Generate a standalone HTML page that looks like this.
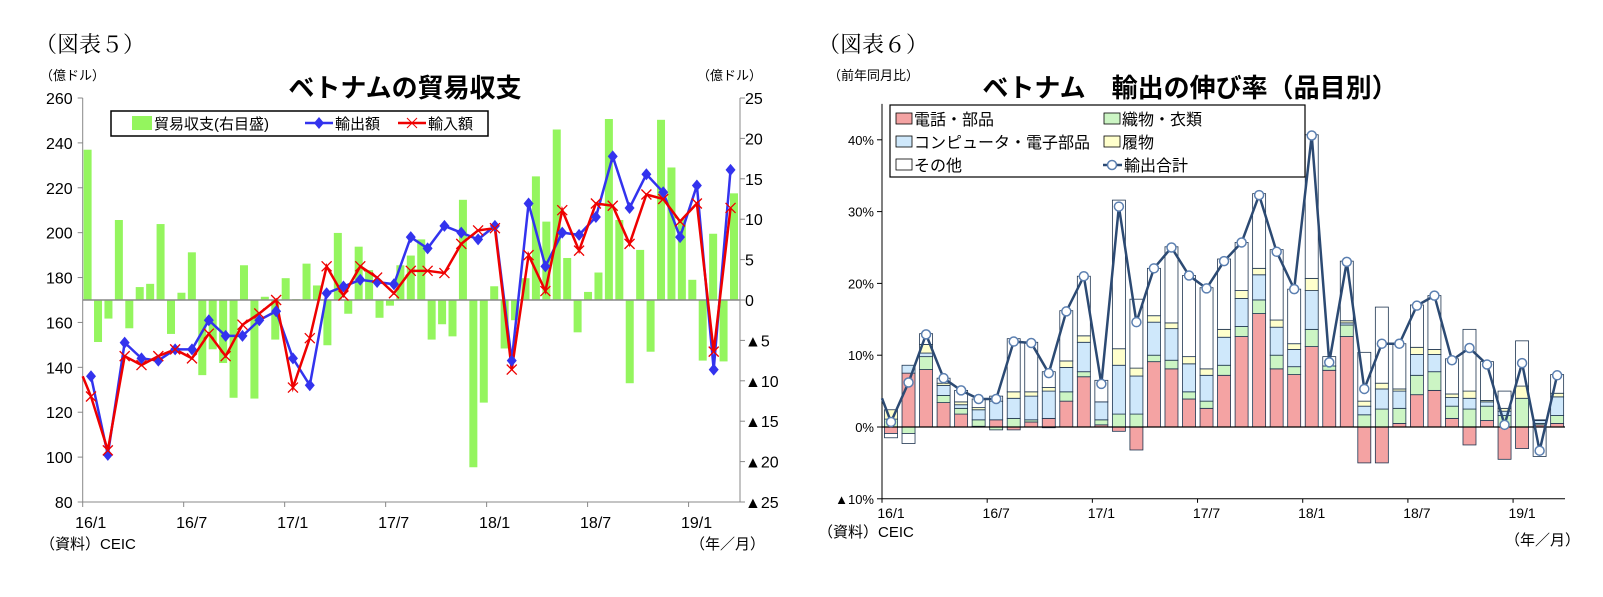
<!DOCTYPE html><html><head><meta charset="utf-8"><style>
body{margin:0;background:#fff;width:1603px;height:597px;overflow:hidden}
svg{display:block;font-family:"Liberation Sans","Noto Sans CJK JP",sans-serif}
</style></head><body>
<svg id="s" width="1603" height="597" xmlns="http://www.w3.org/2000/svg"></svg>
<script>
const s=document.getElementById('s');let h='';
function T(x,y,t,sz,a,extra){h+=`<text x="${x}" y="${y}" font-size="${sz}" text-anchor="${a||'start'}" ${extra||''}>${t}</text>`;}
// ===== Left chart =====
T(35,52,'（図表５）',22,'start','font-family="Liberation Serif,Noto Serif CJK SC,serif"');
T(40,80,'（億ドル）',13);T(762,80,'（億ドル）',13,'end');
T(405,97,'ベトナムの貿易収支',26,'middle','font-weight="bold"');
const L=82.7,R=740,yT=98,yB=502;
const yl=v=>yB-(v-80)*(yB-yT)/180, yr=v=>300-v*8.08;
const bal=[18.6,-5.2,-2.3,9.9,-3.5,1.6,2.0,9.4,-4.2,0.9,5.9,-9.3,-6.1,-7.8,-12.1,4.3,-12.2,0.4,-4.9,2.7,0.1,4.5,1.8,-5.6,8.3,-1.7,6.6,3.7,-2.2,-0.7,4.3,5.5,7.5,-4.9,-3.0,-4.5,12.4,-20.7,-12.7,1.7,-6.0,-2.5,2.7,15.3,9.7,21.1,5.2,-4.0,1.0,3.4,22.4,9.9,-10.3,6.2,-6.4,22.3,16.4,10,2.5,-7.5,8.2,-7.6,13.2];
bal.forEach((v,k)=>{const x=87.6+k*(646.4/62);const y=Math.min(yr(v),300);h+=`<rect x="${x-4}" y="${y}" width="8" height="${Math.abs(yr(v)-300)}" fill="#94f55e"/>`;});
h+=`<line x1="${L}" y1="300" x2="${R}" y2="300" stroke="#888" stroke-width="1.5"/>`;
h+=`<line x1="${L}" y1="${yT}" x2="${L}" y2="${yB}" stroke="#888"/><line x1="${R}" y1="${yT}" x2="${R}" y2="${yB}" stroke="#888"/><line x1="${L}" y1="${yB}" x2="${R}" y2="${yB}" stroke="#888"/>`;
for(let v=80;v<=260;v+=20){const y=yl(v);h+=`<line x1="${L-5}" y1="${y}" x2="${L}" y2="${y}" stroke="#888"/>`;T(L-10,y+6,v,16,'end');}
const rl=['25','20','15','10','5','0','▲5','▲10','▲15','▲20','▲25'];
rl.forEach((t,i)=>{const y=yr(25-5*i);h+=`<line x1="${R}" y1="${y}" x2="${R+5}" y2="${y}" stroke="#888"/>`;T(R+5,y+6,t,16);});
const lab=['16/1','16/7','17/1','17/7','18/1','18/7','19/1'];
lab.forEach((t,i)=>{const x=L+i*6*16.83;h+=`<line x1="${x}" y1="${yB}" x2="${x}" y2="${yB+5}" stroke="#888"/>`;T(x+8,528,t,16,'middle');});
T(40,549,'（資料）CEIC',15);T(765,549,'（年／月）',15,'end');
const ex=[136,101,151,144,143,148,148,161,154,154,161,165,144,132,173,176,179,178,177,198,193,203,200,197,203,143,213,185,200,199,207,234,211,226,218,198,221,139,228];
const im=[127,103,145,141,145,148,144,155,145,159,164,170,131,153,185,172,185,180,173,183,183,182,195,201,202,139,190,174,210,192,213,212,195,217,215,205,213,147,211];
const px=i=>91+i*16.83;
h+=`<polyline fill="none" stroke="#3333ee" stroke-width="2.5" points="${ex.map((v,i)=>px(i)+','+yl(v)).join(' ')}"/>`;
h+=`<polyline fill="none" stroke="#ee0000" stroke-width="2.5" points="${L},${yl(136)} ${im.map((v,i)=>px(i)+','+yl(v)).join(' ')}"/>`;
ex.forEach((v,i)=>{const x=px(i),y=yl(v);h+=`<path d="M${x} ${y-6}L${x+5} ${y}L${x} ${y+6}L${x-5} ${y}Z" fill="#3333ee"/>`;});
im.forEach((v,i)=>{const x=px(i),y=yl(v);h+=`<path d="M${x-5} ${y-5}L${x+5} ${y+5}M${x+5} ${y-5}L${x-5} ${y+5}" stroke="#ee0000" stroke-width="1.3"/>`;});
h+=`<rect x="111" y="111" width="377" height="25" fill="#fff" stroke="#000" stroke-width="1.5"/>`;
h+=`<rect x="132" y="116" width="20" height="14" fill="#94f55e"/>`;T(154,129,'貿易収支(右目盛)',15);
h+=`<line x1="305" y1="123" x2="333" y2="123" stroke="#3333ee" stroke-width="2.5"/><path d="M319 117L324 123L319 129L314 123Z" fill="#3333ee"/>`;T(335,129,'輸出額',15);
h+=`<line x1="398" y1="123" x2="426" y2="123" stroke="#e00" stroke-width="2.5"/><path d="M407 118L417 128M417 118L407 128" stroke="#e00"/>`;T(428,129,'輸入額',15);
// ===== Right chart =====
T(818,52,'（図表６）',22,'start','font-family="Liberation Serif,Noto Serif CJK SC,serif"');
T(828,80,'（前年同月比）',13);
T(1190,97,'ベトナム　輸出の伸び率（品目別）',26,'middle','font-weight="bold"');
const L2=882,R2=1565,z=427,pp=7.18;const yp=v=>z-v*pp;
const D=[[-0.9,1.1,0,1.3,-0.6,0.7],[7.5,-0.9,1.1,0,-1.4,6.2],[8,1.8,0.5,1.2,1.5,12.9],[3.4,1,1.4,0.3,0.7,6.8],[1.8,0.8,0.5,0.4,1.6,5.1],[0.1,0.9,1.4,0.3,1.2,3.9],[1,-0.4,2.6,0,0.7,3.9],[-0.4,1.2,2.8,0.9,7.4,11.9],[0.7,0.3,3.3,0.6,6.9,11.7],[1.2,-0.1,3.8,0.5,2.2,7.5],[3.6,1.3,3.4,0.9,7,16.1],[7,0.7,4.1,0.9,8.3,21],[0.3,0.7,2.5,0,3,6],[-0.6,1.8,6.8,2.3,20.7,30.7],[-3.2,1.8,5.3,1.1,9.6,14.6],[9.1,0.9,4.6,0.9,6.6,22.1],[8.1,1.2,4.4,0.8,10.6,25],[3.9,1,3.9,1,11.3,21.1],[2.6,1,3.6,0.9,11.3,19.3],[7.2,1.4,3.9,1.1,9.8,23.1],[12.6,1.4,3.9,1.1,6.7,25.7],[15.8,1.9,3.5,0.9,10.4,32.3],[8.1,1.9,3.9,1,9.8,24.4],[7.3,1.1,2.4,0.8,7.6,19.2],[11.2,2.4,5.4,1.7,20,40.6],[7.9,0.6,0,0,1.3,9],[12.6,1.6,0.3,0.3,8.3,23],[-5,1.7,1.2,0.7,6.8,5.3],[-5,2.5,2.8,0.8,10.6,11.6],[0.5,2.1,2.4,0.3,6.3,11.6],[4.5,2.7,2.9,1,5.9,16.9],[5.1,2.6,2.4,0.7,7.5,18.3],[1.2,1.7,1.2,0.5,4.9,9.3],[-2.5,2.5,1.5,1,8.6,11],[0.9,2,0.6,0.2,5.4,8.7],[-4.5,1.6,0.6,0.4,2.4,0.3],[-3,4,0,1.7,6.3,8.9],[0.3,0.2,0.4,0.1,-4.1,-3.3],[0.5,1.1,2.6,0.5,2.6,7.2]];
const C=['#f4a3a3','#ccf5c4','#cfe8fb','#ffffcc','#ffffff'];const bx=i=>891+i*17.53;
D.forEach((d,i)=>{let p=0,n=0;for(let k=0;k<5;k++){const v=d[k];if(!v)continue;let y0,y1;if(v>0){y0=p;p+=v;y1=p;}else{y0=n;n+=v;y1=n;}
const t=yp(Math.max(y0,y1)),b=yp(Math.min(y0,y1));h+=`<rect x="${bx(i)-6.5}" y="${t}" width="13" height="${b-t}" fill="${C[k]}" stroke="#1f3550" stroke-width="0.8"/>`;}});
h+=`<line x1="${L2}" y1="${z}" x2="${R2}" y2="${z}" stroke="#000" stroke-width="1.3"/>`;
h+=`<line x1="${L2}" y1="${yp(45)}" x2="${L2}" y2="${yp(-10)}" stroke="#000"/><line x1="${L2}" y1="${yp(-10)}" x2="${R2}" y2="${yp(-10)}" stroke="#000"/>`;
[40,30,20,10,0,-10].forEach(v=>{const y=yp(v);h+=`<line x1="${L2-5}" y1="${y}" x2="${L2}" y2="${y}" stroke="#000"/>`;T(L2-8,y+5,(v<0?'▲10':v)+'%',13,'end');});
lab.forEach((t,i)=>{const x=891+i*6*17.53;T(x,518,t,14,'middle');h+=`<line x1="${x-9}" y1="${yp(-10)}" x2="${x-9}" y2="${yp(-10)+4}" stroke="#000"/>`;});
T(818,537,'（資料）CEIC',15);T(1580,545,'（年／月）',15,'end');
h+=`<polyline fill="none" stroke="#2c4a73" stroke-width="2.5" points="${L2},${yp(4)} ${D.map((d,i)=>bx(i)+','+yp(d[5])).join(' ')}"/>`;
D.forEach((d,i)=>{h+=`<circle cx="${bx(i)}" cy="${yp(d[5])}" r="4.5" fill="#fff" stroke="#5b7fb0" stroke-width="1.5"/>`;});
h+=`<rect x="890" y="105" width="415" height="72" fill="#fff" stroke="#000" stroke-width="1.2"/>`;
const lg=[[896,119,0,'電話・部品'],[1104,119,1,'織物・衣類'],[896,142,2,'コンピュータ・電子部品'],[1104,142,3,'履物'],[896,165,4,'その他']];
lg.forEach(([x,y,k,t])=>{h+=`<rect x="${x}" y="${y-6}" width="16" height="11" fill="${C[k]}" stroke="#000" stroke-width="0.8"/>`;T(x+18,y+6,t,16);});
h+=`<line x1="1103" y1="165" x2="1122" y2="165" stroke="#2c4a73" stroke-width="2.5"/><circle cx="1112" cy="165" r="4.5" fill="#fff" stroke="#5b7fb0" stroke-width="1.5"/>`;T(1124,171,'輸出合計',16);
s.innerHTML=h;
</script></body></html>
